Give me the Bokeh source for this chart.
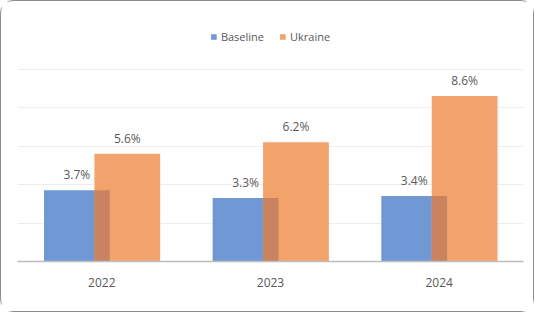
from bokeh.plotting import figure
from bokeh.models import ColumnDataSource, FactorRange, LabelSet, Legend, LegendItem, FixedTicker, Range1d
from bokeh.core.properties import value
from bokeh.transform import dodge
from bokeh.embed import file_html
from bokeh.resources import INLINE

years = ["2022", "2023", "2024"]
baseline = [3.7, 3.3, 3.4]
ukraine = [5.6, 6.2, 8.6]
baseline_labels = ["3.7%", "3.3%", "3.4%"]
ukraine_labels = ["5.6%", "6.2%", "8.6%"]
y_ticks = [0, 2, 4, 6, 8, 10]

src = ColumnDataSource(dict(years=years, baseline=baseline, ukraine=ukraine,
                            bl=baseline_labels, ul=ukraine_labels))

FONT = "Open Sans"
TXT = "#595959"

p = figure(x_range=FactorRange(*years), y_range=Range1d(0, 13),
           width=534, height=312, output_backend="svg", toolbar_location=None,
           min_border_left=16, min_border_right=12, min_border_top=10, min_border_bottom=52)
p.styles = {"border": "1px solid #8c8c8c", "border-radius": "13px"}
p.outline_line_color = None
p.background_fill_color = "white"
p.border_fill_color = "white"

W = 0.39
DB, DU, DO = -0.148, 0.151, 0.0015
rb = p.vbar(x=dodge("years", DB, range=p.x_range), top="baseline", width=W, source=src,
            fill_color="#7098D5", line_color=None)
ru = p.vbar(x=dodge("years", DU, range=p.x_range), top="ukraine", width=W, source=src,
            fill_color="#F2A36C", line_color=None)
p.vbar(x=dodge("years", DO, range=p.x_range), top="baseline", width=0.091, source=src,
       fill_color="#C98360", line_color=None)

for d, col, lab in [(DB, "baseline", "bl"), (DU, "ukraine", "ul")]:
    ls = LabelSet(x=dodge("years", d, range=p.x_range), y=col, text=lab, source=src,
                  text_align="center", text_baseline="alphabetic", y_offset=11,
                  text_font=value(FONT), text_font_size="12px", text_color=TXT)
    p.add_layout(ls)

legend = Legend(items=[LegendItem(label="Baseline", renderers=[rb]),
                       LegendItem(label="Ukraine", renderers=[ru])],
                location="top_center", orientation="horizontal",
                glyph_width=7, glyph_height=7, label_standoff=4, spacing=15,
                padding=0, margin=18, label_height=14,
                label_text_font=FONT, label_text_font_size="11px", label_text_color=TXT,
                border_line_color=None, background_fill_alpha=0)
p.add_layout(legend, "center")

p.yaxis.visible = False
p.yaxis.ticker = FixedTicker(ticks=y_ticks)
p.ygrid.ticker = FixedTicker(ticks=y_ticks)
p.ygrid.grid_line_color = "#EDEDED"
p.xgrid.grid_line_color = None

p.xaxis.axis_line_color = "#BDBDBD"
p.xaxis.axis_line_width = 1.5
p.xaxis.major_tick_line_color = None
p.xaxis.minor_tick_line_color = None
p.xaxis.major_label_standoff = 10
p.xaxis.major_label_text_font = FONT
p.xaxis.major_label_text_font_size = "12px"
p.xaxis.major_label_text_color = TXT
p.x_range.range_padding = 0
p.x_range.group_padding = 0

open("out.html", "w").write(file_html(p, INLINE))
